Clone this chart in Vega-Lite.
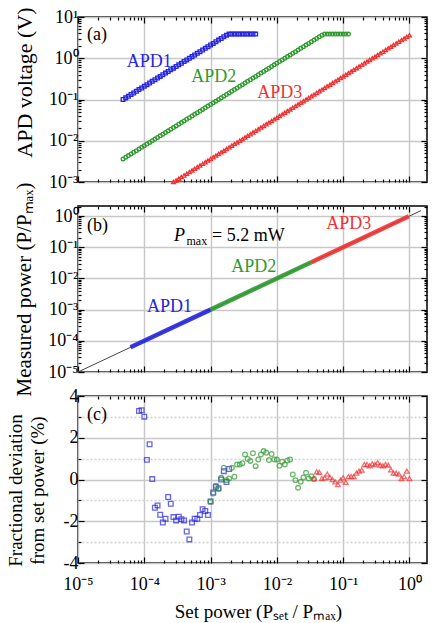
{
"$schema": "https://vega.github.io/schema/vega-lite/v6.json",
"background": "white",
"padding": {"left": 5, "top": 6, "right": 5, "bottom": 5},
"spacing": 24,
"bounds": "flush",
"config": {
 "font": "Liberation Serif",
 "view": {"stroke": "#000", "strokeWidth": 1.5},
 "axis": {"domain": false, "labelFont": "Liberation Serif", "labelFontSize": 18, "labelColor": "#000", "titleFont": "Liberation Serif", "titleFontSize": 19, "titleFontWeight": "normal", "titleColor": "#000", "tickColor": "#000", "tickWidth": 1.2, "gridColor": "#c8c8c8", "gridWidth": 1.5, "labelOverlap": false, "labelFlush": false},
 "text": {"font": "Liberation Serif"}
},
"datasets": {
 "a": [
  {"s":"APD1","x":4.786e-5,"y":0.1},{"s":"APD1","x":5.248e-5,"y":0.1096},{"s":"APD1","x":5.754e-5,"y":0.1202},{"s":"APD1","x":6.31e-5,"y":0.1318},{"s":"APD1","x":6.918e-5,"y":0.1445},{"s":"APD1","x":7.586e-5,"y":0.1585},{"s":"APD1","x":8.318e-5,"y":0.1738},{"s":"APD1","x":9.12e-5,"y":0.1905},{"s":"APD1","x":1e-4,"y":0.2089},{"s":"APD1","x":1.096e-4,"y":0.2291},{"s":"APD1","x":1.202e-4,"y":0.2512},{"s":"APD1","x":1.318e-4,"y":0.2754},{"s":"APD1","x":1.445e-4,"y":0.302},{"s":"APD1","x":1.585e-4,"y":0.3311},{"s":"APD1","x":1.738e-4,"y":0.3631},{"s":"APD1","x":1.905e-4,"y":0.3981},{"s":"APD1","x":2.089e-4,"y":0.4365},{"s":"APD1","x":2.291e-4,"y":0.4786},{"s":"APD1","x":2.512e-4,"y":0.5248},{"s":"APD1","x":2.754e-4,"y":0.5754},{"s":"APD1","x":3.02e-4,"y":0.631},{"s":"APD1","x":3.311e-4,"y":0.6918},{"s":"APD1","x":3.631e-4,"y":0.7586},{"s":"APD1","x":3.981e-4,"y":0.8318},{"s":"APD1","x":4.365e-4,"y":0.912},{"s":"APD1","x":4.786e-4,"y":1.0},{"s":"APD1","x":5.248e-4,"y":1.096},{"s":"APD1","x":5.754e-4,"y":1.202},{"s":"APD1","x":6.31e-4,"y":1.318},{"s":"APD1","x":6.918e-4,"y":1.445},{"s":"APD1","x":7.586e-4,"y":1.585},{"s":"APD1","x":8.318e-4,"y":1.738},{"s":"APD1","x":9.12e-4,"y":1.905},{"s":"APD1","x":1e-3,"y":2.089},{"s":"APD1","x":1.096e-3,"y":2.291},{"s":"APD1","x":1.202e-3,"y":2.512},{"s":"APD1","x":1.318e-3,"y":2.754},{"s":"APD1","x":1.445e-3,"y":3.02},{"s":"APD1","x":1.585e-3,"y":3.311},{"s":"APD1","x":1.738e-3,"y":3.631},
  {"s":"APD1","x":1.905e-3,"y":3.85},{"s":"APD1","x":2.089e-3,"y":3.85},{"s":"APD1","x":2.291e-3,"y":3.85},{"s":"APD1","x":2.512e-3,"y":3.85},{"s":"APD1","x":2.754e-3,"y":3.85},{"s":"APD1","x":3.02e-3,"y":3.85},{"s":"APD1","x":3.311e-3,"y":3.85},{"s":"APD1","x":3.631e-3,"y":3.85},{"s":"APD1","x":3.981e-3,"y":3.85},{"s":"APD1","x":4.365e-3,"y":3.85},{"s":"APD1","x":4.786e-3,"y":3.85},
  {"s":"APD2","x":4.786e-5,"y":3.631e-3},{"s":"APD2","x":5.248e-5,"y":3.981e-3},{"s":"APD2","x":5.754e-5,"y":4.365e-3},{"s":"APD2","x":6.31e-5,"y":4.786e-3},{"s":"APD2","x":6.918e-5,"y":5.248e-3},{"s":"APD2","x":7.586e-5,"y":5.754e-3},{"s":"APD2","x":8.318e-5,"y":6.31e-3},{"s":"APD2","x":9.12e-5,"y":6.918e-3},
  {"s":"APD2","x":1e-4,"y":7.586e-3},{"s":"APD2","x":1.096e-4,"y":8.318e-3},{"s":"APD2","x":1.202e-4,"y":9.12e-3},{"s":"APD2","x":1.318e-4,"y":0.01},{"s":"APD2","x":1.445e-4,"y":0.01096},{"s":"APD2","x":1.585e-4,"y":0.01202},{"s":"APD2","x":1.738e-4,"y":0.01318},{"s":"APD2","x":1.905e-4,"y":0.01445},{"s":"APD2","x":2.089e-4,"y":0.01585},{"s":"APD2","x":2.291e-4,"y":0.01738},{"s":"APD2","x":2.512e-4,"y":0.01905},{"s":"APD2","x":2.754e-4,"y":0.02089},{"s":"APD2","x":3.02e-4,"y":0.02291},{"s":"APD2","x":3.311e-4,"y":0.02512},{"s":"APD2","x":3.631e-4,"y":0.02754},{"s":"APD2","x":3.981e-4,"y":0.0302},{"s":"APD2","x":4.365e-4,"y":0.03311},{"s":"APD2","x":4.786e-4,"y":0.03631},{"s":"APD2","x":5.248e-4,"y":0.03981},{"s":"APD2","x":5.754e-4,"y":0.04365},{"s":"APD2","x":6.31e-4,"y":0.04786},{"s":"APD2","x":6.918e-4,"y":0.05248},{"s":"APD2","x":7.586e-4,"y":0.05754},{"s":"APD2","x":8.318e-4,"y":0.0631},{"s":"APD2","x":9.12e-4,"y":0.06918},
  {"s":"APD2","x":1e-3,"y":0.07586},{"s":"APD2","x":1.096e-3,"y":0.08318},{"s":"APD2","x":1.202e-3,"y":0.0912},{"s":"APD2","x":1.318e-3,"y":0.1},{"s":"APD2","x":1.445e-3,"y":0.1096},{"s":"APD2","x":1.585e-3,"y":0.1202},{"s":"APD2","x":1.738e-3,"y":0.1318},{"s":"APD2","x":1.905e-3,"y":0.1445},{"s":"APD2","x":2.089e-3,"y":0.1585},{"s":"APD2","x":2.291e-3,"y":0.1738},{"s":"APD2","x":2.512e-3,"y":0.1905},{"s":"APD2","x":2.754e-3,"y":0.2089},{"s":"APD2","x":3.02e-3,"y":0.2291},{"s":"APD2","x":3.311e-3,"y":0.2512},{"s":"APD2","x":3.631e-3,"y":0.2754},{"s":"APD2","x":3.981e-3,"y":0.302},{"s":"APD2","x":4.365e-3,"y":0.3311},{"s":"APD2","x":4.786e-3,"y":0.3631},{"s":"APD2","x":5.248e-3,"y":0.3981},{"s":"APD2","x":5.754e-3,"y":0.4365},{"s":"APD2","x":6.31e-3,"y":0.4786},{"s":"APD2","x":6.918e-3,"y":0.5248},{"s":"APD2","x":7.586e-3,"y":0.5754},{"s":"APD2","x":8.318e-3,"y":0.631},{"s":"APD2","x":9.12e-3,"y":0.6918},
  {"s":"APD2","x":0.01,"y":0.7586},{"s":"APD2","x":0.01096,"y":0.8318},{"s":"APD2","x":0.01202,"y":0.912},{"s":"APD2","x":0.01318,"y":1.0},{"s":"APD2","x":0.01445,"y":1.096},{"s":"APD2","x":0.01585,"y":1.202},{"s":"APD2","x":0.01738,"y":1.318},{"s":"APD2","x":0.01905,"y":1.445},{"s":"APD2","x":0.02089,"y":1.585},{"s":"APD2","x":0.02291,"y":1.738},{"s":"APD2","x":0.02512,"y":1.905},{"s":"APD2","x":0.02754,"y":2.089},{"s":"APD2","x":0.0302,"y":2.291},{"s":"APD2","x":0.03311,"y":2.512},{"s":"APD2","x":0.03631,"y":2.754},{"s":"APD2","x":0.03981,"y":3.02},{"s":"APD2","x":0.04365,"y":3.311},{"s":"APD2","x":0.04786,"y":3.631},
  {"s":"APD2","x":0.05248,"y":3.85},{"s":"APD2","x":0.05754,"y":3.85},{"s":"APD2","x":0.0631,"y":3.85},{"s":"APD2","x":0.06918,"y":3.85},{"s":"APD2","x":0.07586,"y":3.85},{"s":"APD2","x":0.08318,"y":3.85},{"s":"APD2","x":0.0912,"y":3.85},{"s":"APD2","x":0.1,"y":3.85},{"s":"APD2","x":0.1096,"y":3.85},{"s":"APD2","x":0.1202,"y":3.85},
  {"s":"APD3","x":2.754e-4,"y":1e-3},{"s":"APD3","x":3.02e-4,"y":1.096e-3},{"s":"APD3","x":3.311e-4,"y":1.202e-3},{"s":"APD3","x":3.631e-4,"y":1.318e-3},{"s":"APD3","x":3.981e-4,"y":1.445e-3},{"s":"APD3","x":4.365e-4,"y":1.585e-3},{"s":"APD3","x":4.786e-4,"y":1.738e-3},{"s":"APD3","x":5.248e-4,"y":1.905e-3},{"s":"APD3","x":5.754e-4,"y":2.089e-3},{"s":"APD3","x":6.31e-4,"y":2.291e-3},{"s":"APD3","x":6.918e-4,"y":2.512e-3},{"s":"APD3","x":7.586e-4,"y":2.754e-3},{"s":"APD3","x":8.318e-4,"y":3.02e-3},{"s":"APD3","x":9.12e-4,"y":3.311e-3},
  {"s":"APD3","x":1e-3,"y":3.631e-3},{"s":"APD3","x":1.096e-3,"y":3.981e-3},{"s":"APD3","x":1.202e-3,"y":4.365e-3},{"s":"APD3","x":1.318e-3,"y":4.786e-3},{"s":"APD3","x":1.445e-3,"y":5.248e-3},{"s":"APD3","x":1.585e-3,"y":5.754e-3},{"s":"APD3","x":1.738e-3,"y":6.31e-3},{"s":"APD3","x":1.905e-3,"y":6.918e-3},{"s":"APD3","x":2.089e-3,"y":7.586e-3},{"s":"APD3","x":2.291e-3,"y":8.318e-3},{"s":"APD3","x":2.512e-3,"y":9.12e-3},{"s":"APD3","x":2.754e-3,"y":0.01},{"s":"APD3","x":3.02e-3,"y":0.01096},{"s":"APD3","x":3.311e-3,"y":0.01202},{"s":"APD3","x":3.631e-3,"y":0.01318},{"s":"APD3","x":3.981e-3,"y":0.01445},{"s":"APD3","x":4.365e-3,"y":0.01585},{"s":"APD3","x":4.786e-3,"y":0.01738},{"s":"APD3","x":5.248e-3,"y":0.01905},{"s":"APD3","x":5.754e-3,"y":0.02089},{"s":"APD3","x":6.31e-3,"y":0.02291},{"s":"APD3","x":6.918e-3,"y":0.02512},{"s":"APD3","x":7.586e-3,"y":0.02754},{"s":"APD3","x":8.318e-3,"y":0.0302},{"s":"APD3","x":9.12e-3,"y":0.03311},
  {"s":"APD3","x":0.01,"y":0.03631},{"s":"APD3","x":0.01096,"y":0.03981},{"s":"APD3","x":0.01202,"y":0.04365},{"s":"APD3","x":0.01318,"y":0.04786},{"s":"APD3","x":0.01445,"y":0.05248},{"s":"APD3","x":0.01585,"y":0.05754},{"s":"APD3","x":0.01738,"y":0.0631},{"s":"APD3","x":0.01905,"y":0.06918},{"s":"APD3","x":0.02089,"y":0.07586},{"s":"APD3","x":0.02291,"y":0.08318},{"s":"APD3","x":0.02512,"y":0.0912},{"s":"APD3","x":0.02754,"y":0.1},{"s":"APD3","x":0.0302,"y":0.1096},{"s":"APD3","x":0.03311,"y":0.1202},{"s":"APD3","x":0.03631,"y":0.1318},{"s":"APD3","x":0.03981,"y":0.1445},{"s":"APD3","x":0.04365,"y":0.1585},{"s":"APD3","x":0.04786,"y":0.1738},{"s":"APD3","x":0.05248,"y":0.1905},{"s":"APD3","x":0.05754,"y":0.2089},{"s":"APD3","x":0.0631,"y":0.2291},{"s":"APD3","x":0.06918,"y":0.2512},{"s":"APD3","x":0.07586,"y":0.2754},{"s":"APD3","x":0.08318,"y":0.302},{"s":"APD3","x":0.0912,"y":0.3311},
  {"s":"APD3","x":0.1,"y":0.3631},{"s":"APD3","x":0.1096,"y":0.3981},{"s":"APD3","x":0.1202,"y":0.4365},{"s":"APD3","x":0.1318,"y":0.4786},{"s":"APD3","x":0.1445,"y":0.5248},{"s":"APD3","x":0.1585,"y":0.5754},{"s":"APD3","x":0.1738,"y":0.631},{"s":"APD3","x":0.1905,"y":0.6918},{"s":"APD3","x":0.2089,"y":0.7586},{"s":"APD3","x":0.2291,"y":0.8318},{"s":"APD3","x":0.2512,"y":0.912},{"s":"APD3","x":0.2754,"y":1.0},{"s":"APD3","x":0.302,"y":1.096},{"s":"APD3","x":0.3311,"y":1.202},{"s":"APD3","x":0.3631,"y":1.318},{"s":"APD3","x":0.3981,"y":1.445},{"s":"APD3","x":0.4365,"y":1.585},{"s":"APD3","x":0.4786,"y":1.738},{"s":"APD3","x":0.5248,"y":1.905},{"s":"APD3","x":0.5754,"y":2.089},{"s":"APD3","x":0.631,"y":2.291},{"s":"APD3","x":0.6918,"y":2.512},{"s":"APD3","x":0.7586,"y":2.754},{"s":"APD3","x":0.8318,"y":3.02},{"s":"APD3","x":0.912,"y":3.311},{"s":"APD3","x":1.0,"y":3.631}
 ],
 "b": [
  {"s":"APD1","x":6.2e-5,"y":6.2e-5},{"s":"APD1","x":1e-3,"y":1e-3},
  {"s":"APD2","x":1e-3,"y":1e-3},{"s":"APD2","x":0.033,"y":0.033},
  {"s":"APD3","x":0.033,"y":0.033},{"s":"APD3","x":0.98,"y":0.98}
 ],
 "c": [
  {"s":"APD1","x":8.318e-5,"y":3.28},{"s":"APD1","x":9.12e-5,"y":3.32},{"s":"APD1","x":1e-4,"y":3.01},{"s":"APD1","x":1.096e-4,"y":0.94},{"s":"APD1","x":1.202e-4,"y":1.69},{"s":"APD1","x":1.318e-4,"y":0.02},{"s":"APD1","x":1.445e-4,"y":-1.35},{"s":"APD1","x":1.585e-4,"y":-1.24},{"s":"APD1","x":1.738e-4,"y":-1.69},{"s":"APD1","x":1.905e-4,"y":-2.06},{"s":"APD1","x":2.089e-4,"y":-1.88},{"s":"APD1","x":2.291e-4,"y":-0.84},{"s":"APD1","x":2.512e-4,"y":-1.16},{"s":"APD1","x":2.754e-4,"y":-1.8},{"s":"APD1","x":3.02e-4,"y":-1.96},{"s":"APD1","x":3.311e-4,"y":-1.78},{"s":"APD1","x":3.631e-4,"y":-1.9},{"s":"APD1","x":3.981e-4,"y":-1.96},{"s":"APD1","x":4.365e-4,"y":-2.49},{"s":"APD1","x":4.786e-4,"y":-2.87},{"s":"APD1","x":5.248e-4,"y":-2.06},{"s":"APD1","x":5.754e-4,"y":-1.88},{"s":"APD1","x":6.31e-4,"y":-1.88},{"s":"APD1","x":6.918e-4,"y":-1.7},{"s":"APD1","x":7.586e-4,"y":-1.42},{"s":"APD1","x":8.318e-4,"y":-1.51},{"s":"APD1","x":9.12e-4,"y":-1.7},{"s":"APD1","x":1e-3,"y":-1.05},{"s":"APD1","x":1.096e-3,"y":-0.62},{"s":"APD1","x":1.202e-3,"y":-0.35},{"s":"APD1","x":1.318e-3,"y":-0.42},{"s":"APD1","x":1.445e-3,"y":0.0},{"s":"APD1","x":1.585e-3,"y":0.4},{"s":"APD1","x":1.738e-3,"y":-0.12},{"s":"APD1","x":1.905e-3,"y":0.5},
  {"s":"APD2","x":1e-3,"y":-1.07},{"s":"APD2","x":1.096e-3,"y":-0.67},{"s":"APD2","x":1.202e-3,"y":-0.3},{"s":"APD2","x":1.318e-3,"y":-0.46},{"s":"APD2","x":1.445e-3,"y":0.08},{"s":"APD2","x":1.585e-3,"y":0.56},{"s":"APD2","x":1.738e-3,"y":-0.03},{"s":"APD2","x":1.905e-3,"y":0.05},{"s":"APD2","x":2.089e-3,"y":0.56},{"s":"APD2","x":2.291e-3,"y":0.13},{"s":"APD2","x":2.512e-3,"y":0.72},{"s":"APD2","x":2.754e-3,"y":0.72},{"s":"APD2","x":3.02e-3,"y":0.78},{"s":"APD2","x":3.311e-3,"y":1.2},{"s":"APD2","x":3.631e-3,"y":0.98},{"s":"APD2","x":3.981e-3,"y":0.89},{"s":"APD2","x":4.365e-3,"y":1.26},{"s":"APD2","x":4.786e-3,"y":0.64},{"s":"APD2","x":5.248e-3,"y":0.96},{"s":"APD2","x":5.754e-3,"y":1.2},{"s":"APD2","x":6.31e-3,"y":1.36},{"s":"APD2","x":6.918e-3,"y":1.28},{"s":"APD2","x":7.586e-3,"y":0.93},{"s":"APD2","x":8.318e-3,"y":1.22},{"s":"APD2","x":9.12e-3,"y":0.96},{"s":"APD2","x":0.01,"y":0.96},{"s":"APD2","x":0.01096,"y":0.66},{"s":"APD2","x":0.01202,"y":0.85},{"s":"APD2","x":0.01318,"y":0.72},{"s":"APD2","x":0.01445,"y":0.91},{"s":"APD2","x":0.01585,"y":0.96},{"s":"APD2","x":0.01738,"y":0.24},{"s":"APD2","x":0.01905,"y":-0.03},{"s":"APD2","x":0.02089,"y":-0.4},{"s":"APD2","x":0.02291,"y":-0.11},{"s":"APD2","x":0.02512,"y":0.1},{"s":"APD2","x":0.02754,"y":0.32},{"s":"APD2","x":0.0302,"y":0.05},{"s":"APD2","x":0.03311,"y":0.16},{"s":"APD2","x":0.03631,"y":0.02},
  {"s":"APD3","x":0.03631,"y":0.05},{"s":"APD3","x":0.03981,"y":0.37},{"s":"APD3","x":0.04365,"y":0.34},{"s":"APD3","x":0.04786,"y":0.05},{"s":"APD3","x":0.05248,"y":0.08},{"s":"APD3","x":0.05754,"y":0.26},{"s":"APD3","x":0.0631,"y":0.1},{"s":"APD3","x":0.06918,"y":0.0},{"s":"APD3","x":0.07586,"y":-0.11},{"s":"APD3","x":0.08318,"y":-0.24},{"s":"APD3","x":0.0912,"y":-0.03},{"s":"APD3","x":0.1,"y":0.08},{"s":"APD3","x":0.1096,"y":-0.14},{"s":"APD3","x":0.1202,"y":0.14},{"s":"APD3","x":0.1318,"y":0.14},{"s":"APD3","x":0.1445,"y":0.14},{"s":"APD3","x":0.1585,"y":0.31},{"s":"APD3","x":0.1738,"y":0.4},{"s":"APD3","x":0.1905,"y":0.45},{"s":"APD3","x":0.2089,"y":0.72},{"s":"APD3","x":0.2291,"y":0.72},{"s":"APD3","x":0.2512,"y":0.66},{"s":"APD3","x":0.2754,"y":0.75},{"s":"APD3","x":0.302,"y":0.72},{"s":"APD3","x":0.3311,"y":0.81},{"s":"APD3","x":0.3631,"y":0.69},{"s":"APD3","x":0.3981,"y":0.66},{"s":"APD3","x":0.4365,"y":0.72},{"s":"APD3","x":0.4786,"y":0.69},{"s":"APD3","x":0.5248,"y":0.46},{"s":"APD3","x":0.5754,"y":0.31},{"s":"APD3","x":0.631,"y":0.31},{"s":"APD3","x":0.6918,"y":0.26},{"s":"APD3","x":0.7586,"y":0.05},{"s":"APD3","x":0.8318,"y":0.14},{"s":"APD3","x":0.912,"y":0.4},{"s":"APD3","x":1.0,"y":0.05}
 ]
},
"vconcat": [
 {
  "width": 349, "height": 165,
  "layer": [
   {"data": {"name": "a"}, "mark": {"type": "point", "filled": false, "size": 14, "strokeWidth": 1.3, "opacity": 1},
    "encoding": {
     "x": {"field": "x", "type": "quantitative", "scale": {"type": "log", "domain": [0.00001, 1.84], "nice": false},
       "axis": {"title": null, "labels": false, "values": [0.00001,0.00002,0.00003,0.00004,0.00005,0.00006,0.00007,0.00008,0.00009,0.0001,0.0002,0.0003,0.0004,0.0005,0.0006,0.0007,0.0008,0.0009,0.001,0.002,0.003,0.004,0.005,0.006,0.007,0.008,0.009,0.01,0.02,0.03,0.04,0.05,0.06,0.07,0.08,0.09,0.1,0.2,0.3,0.4,0.5,0.6,0.7,0.8,0.9,1],
        "tickSize": {"condition": {"test": "abs(log(datum.value)/LN10 - round(log(datum.value)/LN10)) < 0.01", "value": -6}, "value": -3},
        "gridOpacity": {"condition": {"test": "abs(log(datum.value)/LN10 - round(log(datum.value)/LN10)) < 0.01", "value": 1}, "value": 0}}},
     "y": {"field": "y", "type": "quantitative", "scale": {"type": "log", "domain": [0.001, 10], "nice": false},
       "axis": {"title": "APD voltage (V)", "titleFontSize": 22, "titleX": -54, "titleY": 65, "titleAngle": -90, "titleAlign": "center", "titleBaseline": "middle", "labelPadding": 6,
        "values": [0.001,0.002,0.003,0.004,0.005,0.006,0.007,0.008,0.009,0.01,0.02,0.03,0.04,0.05,0.06,0.07,0.08,0.09,0.1,0.2,0.3,0.4,0.5,0.6,0.7,0.8,0.9,1,2,3,4,5,6,7,8,9,10],
        "labelExpr": "abs(log(datum.value)/LN10 - round(log(datum.value)/LN10)) < 0.01 ? ['10⁻⁵','10⁻⁴','10⁻³','10⁻²','10⁻¹','10⁰','10¹'][round(log(datum.value)/LN10)+5] : ''",
        "tickSize": {"condition": {"test": "abs(log(datum.value)/LN10 - round(log(datum.value)/LN10)) < 0.01", "value": -6}, "value": -3},
        "gridOpacity": {"condition": {"test": "abs(log(datum.value)/LN10 - round(log(datum.value)/LN10)) < 0.01", "value": 1}, "value": 0}}},
     "color": {"field": "s", "type": "nominal", "scale": {"domain": ["APD1","APD2","APD3"], "range": ["#2626e0","#2f9a2f","#f03232"]}, "legend": null},
     "shape": {"field": "s", "type": "nominal", "scale": {"domain": ["APD1","APD2","APD3"], "range": ["square","circle","triangle-up"]}, "legend": null}
    }},
   {"data": {"name": "a"}, "mark": {"type": "point", "opacity": 0},
    "encoding": {
     "x": {"field": "x", "type": "quantitative", "scale": {"type": "log", "domain": [0.00001, 1.84], "nice": false},
       "axis": {"orient": "top", "title": null, "labels": false, "grid": false, "values": [0.00001,0.00002,0.00003,0.00004,0.00005,0.00006,0.00007,0.00008,0.00009,0.0001,0.0002,0.0003,0.0004,0.0005,0.0006,0.0007,0.0008,0.0009,0.001,0.002,0.003,0.004,0.005,0.006,0.007,0.008,0.009,0.01,0.02,0.03,0.04,0.05,0.06,0.07,0.08,0.09,0.1,0.2,0.3,0.4,0.5,0.6,0.7,0.8,0.9,1],
        "tickSize": {"condition": {"test": "abs(log(datum.value)/LN10 - round(log(datum.value)/LN10)) < 0.01", "value": -6}, "value": -3}}},
     "y": {"field": "y", "type": "quantitative", "scale": {"type": "log", "domain": [0.001, 10], "nice": false},
       "axis": {"orient": "right", "title": null, "labels": false, "grid": false, "values": [0.001,0.002,0.003,0.004,0.005,0.006,0.007,0.008,0.009,0.01,0.02,0.03,0.04,0.05,0.06,0.07,0.08,0.09,0.1,0.2,0.3,0.4,0.5,0.6,0.7,0.8,0.9,1,2,3,4,5,6,7,8,9,10],
        "tickSize": {"condition": {"test": "abs(log(datum.value)/LN10 - round(log(datum.value)/LN10)) < 0.01", "value": -6}, "value": -3}}}
    }},
   {"data": {"values": [{"t": "(a)", "x": 1.37e-5, "y": 3.6}]}, "mark": {"type": "text", "align": "left", "baseline": "middle", "fontSize": 18, "color": "#000"},
    "encoding": {"x": {"field": "x", "type": "quantitative", "scale": {"type": "log", "domain": [0.00001, 1.84], "nice": false}, "axis": null},
     "y": {"field": "y", "type": "quantitative", "scale": {"type": "log", "domain": [0.001, 10], "nice": false}, "axis": null},
     "text": {"field": "t"}}},
   {"data": {"values": [{"t": "APD1", "s": "APD1", "x": 5.43e-5, "y": 0.81}, {"t": "APD2", "s": "APD2", "x": 5.12e-4, "y": 0.351}, {"t": "APD3", "s": "APD3", "x": 5.06e-3, "y": 0.146}]},
    "mark": {"type": "text", "align": "left", "baseline": "middle", "fontSize": 18},
    "encoding": {"x": {"field": "x", "type": "quantitative", "scale": {"type": "log", "domain": [0.00001, 1.84], "nice": false}, "axis": null},
     "y": {"field": "y", "type": "quantitative", "scale": {"type": "log", "domain": [0.001, 10], "nice": false}, "axis": null},
     "text": {"field": "t"},
     "color": {"field": "s", "type": "nominal", "scale": {"domain": ["APD1","APD2","APD3"], "range": ["#2626e0","#2f9a2f","#f03232"]}, "legend": null}}}
  ],
  "resolve": {"axis": {"x": "independent", "y": "independent"}}
 },
 {
  "width": 349, "height": 166,
  "layer": [
   {"data": {"values": [{"x": 0.00001, "y": 0.00001}, {"x": 1.5, "y": 1.5}]}, "mark": {"type": "line", "color": "#444", "strokeWidth": 1},
    "encoding": {
     "x": {"field": "x", "type": "quantitative", "scale": {"type": "log", "domain": [0.00001, 1.84], "nice": false},
       "axis": {"title": null, "labels": false, "values": [0.00001,0.00002,0.00003,0.00004,0.00005,0.00006,0.00007,0.00008,0.00009,0.0001,0.0002,0.0003,0.0004,0.0005,0.0006,0.0007,0.0008,0.0009,0.001,0.002,0.003,0.004,0.005,0.006,0.007,0.008,0.009,0.01,0.02,0.03,0.04,0.05,0.06,0.07,0.08,0.09,0.1,0.2,0.3,0.4,0.5,0.6,0.7,0.8,0.9,1],
        "tickSize": {"condition": {"test": "abs(log(datum.value)/LN10 - round(log(datum.value)/LN10)) < 0.01", "value": -6}, "value": -3},
        "gridOpacity": {"condition": {"test": "abs(log(datum.value)/LN10 - round(log(datum.value)/LN10)) < 0.01", "value": 1}, "value": 0}}},
     "y": {"field": "y", "type": "quantitative", "scale": {"type": "log", "domain": [0.00001, 2.1], "nice": false},
       "axis": {"title": "Measured power (P/Pₘₐₓ)", "titleFontSize": 21, "titleX": -54, "titleY": 83, "titleAngle": -90, "titleAlign": "center", "titleBaseline": "middle", "labelPadding": 6,
        "values": [0.00001,0.00002,0.00003,0.00004,0.00005,0.00006,0.00007,0.00008,0.00009,0.0001,0.0002,0.0003,0.0004,0.0005,0.0006,0.0007,0.0008,0.0009,0.001,0.002,0.003,0.004,0.005,0.006,0.007,0.008,0.009,0.01,0.02,0.03,0.04,0.05,0.06,0.07,0.08,0.09,0.1,0.2,0.3,0.4,0.5,0.6,0.7,0.8,0.9,1,2],
        "labelExpr": "abs(log(datum.value)/LN10 - round(log(datum.value)/LN10)) < 0.01 ? ['10⁻⁵','10⁻⁴','10⁻³','10⁻²','10⁻¹','10⁰','10¹'][round(log(datum.value)/LN10)+5] : ''",
        "tickSize": {"condition": {"test": "abs(log(datum.value)/LN10 - round(log(datum.value)/LN10)) < 0.01", "value": -6}, "value": -3},
        "gridOpacity": {"condition": {"test": "abs(log(datum.value)/LN10 - round(log(datum.value)/LN10)) < 0.01", "value": 1}, "value": 0}}}
    }},
   {"data": {"values": [{"x": 0.00001, "y": 0.00001}, {"x": 1.5, "y": 1.5}]}, "mark": {"type": "line", "opacity": 0},
    "encoding": {
     "x": {"field": "x", "type": "quantitative", "scale": {"type": "log", "domain": [0.00001, 1.84], "nice": false},
       "axis": {"orient": "top", "title": null, "labels": false, "grid": false, "values": [0.00001,0.00002,0.00003,0.00004,0.00005,0.00006,0.00007,0.00008,0.00009,0.0001,0.0002,0.0003,0.0004,0.0005,0.0006,0.0007,0.0008,0.0009,0.001,0.002,0.003,0.004,0.005,0.006,0.007,0.008,0.009,0.01,0.02,0.03,0.04,0.05,0.06,0.07,0.08,0.09,0.1,0.2,0.3,0.4,0.5,0.6,0.7,0.8,0.9,1],
        "tickSize": {"condition": {"test": "abs(log(datum.value)/LN10 - round(log(datum.value)/LN10)) < 0.01", "value": -6}, "value": -3}}},
     "y": {"field": "y", "type": "quantitative", "scale": {"type": "log", "domain": [0.00001, 2.1], "nice": false},
       "axis": {"orient": "right", "title": null, "labels": false, "grid": false, "values": [0.00001,0.00002,0.00003,0.00004,0.00005,0.00006,0.00007,0.00008,0.00009,0.0001,0.0002,0.0003,0.0004,0.0005,0.0006,0.0007,0.0008,0.0009,0.001,0.002,0.003,0.004,0.005,0.006,0.007,0.008,0.009,0.01,0.02,0.03,0.04,0.05,0.06,0.07,0.08,0.09,0.1,0.2,0.3,0.4,0.5,0.6,0.7,0.8,0.9,1,2],
        "tickSize": {"condition": {"test": "abs(log(datum.value)/LN10 - round(log(datum.value)/LN10)) < 0.01", "value": -6}, "value": -3}}}
    }},
   {"data": {"name": "b"}, "mark": {"type": "line", "strokeWidth": 4.5, "strokeCap": "butt", "opacity": 0.9},
    "encoding": {
     "x": {"field": "x", "type": "quantitative", "scale": {"type": "log", "domain": [0.00001, 1.84], "nice": false}, "axis": null},
     "y": {"field": "y", "type": "quantitative", "scale": {"type": "log", "domain": [0.00001, 2.1], "nice": false}, "axis": null},
     "color": {"field": "s", "type": "nominal", "scale": {"domain": ["APD1","APD2","APD3"], "range": ["#1c1ce6","#1f8a1f","#f02020"]}, "legend": null}}},
   {"data": {"values": [{"t": "(b)", "x": 1.37e-5, "y": 0.48}]}, "mark": {"type": "text", "align": "left", "baseline": "middle", "fontSize": 18, "color": "#000"},
    "encoding": {"x": {"field": "x", "type": "quantitative", "scale": {"type": "log", "domain": [0.00001, 1.84], "nice": false}, "axis": null},
     "y": {"field": "y", "type": "quantitative", "scale": {"type": "log", "domain": [0.00001, 2.1], "nice": false}, "axis": null},
     "text": {"field": "t"}}},
   {"data": {"values": [{"t": "P", "x": 2.81e-4, "y": 0.236}]}, "mark": {"type": "text", "align": "left", "baseline": "middle", "fontSize": 18, "fontStyle": "italic", "color": "#000"},
    "encoding": {"x": {"field": "x", "type": "quantitative", "scale": {"type": "log", "domain": [0.00001, 1.84], "nice": false}, "axis": null},
     "y": {"field": "y", "type": "quantitative", "scale": {"type": "log", "domain": [0.00001, 2.1], "nice": false}, "axis": null},
     "text": {"field": "t"}}},
   {"data": {"values": [{"t": "max", "x": 4.33e-4, "y": 0.158}]}, "mark": {"type": "text", "align": "left", "baseline": "middle", "fontSize": 12, "color": "#000"},
    "encoding": {"x": {"field": "x", "type": "quantitative", "scale": {"type": "log", "domain": [0.00001, 1.84], "nice": false}, "axis": null},
     "y": {"field": "y", "type": "quantitative", "scale": {"type": "log", "domain": [0.00001, 2.1], "nice": false}, "axis": null},
     "text": {"field": "t"}}},
   {"data": {"values": [{"t": "= 5.2 mW", "x": 1.05e-3, "y": 0.236}]}, "mark": {"type": "text", "align": "left", "baseline": "middle", "fontSize": 18, "color": "#000"},
    "encoding": {"x": {"field": "x", "type": "quantitative", "scale": {"type": "log", "domain": [0.00001, 1.84], "nice": false}, "axis": null},
     "y": {"field": "y", "type": "quantitative", "scale": {"type": "log", "domain": [0.00001, 2.1], "nice": false}, "axis": null},
     "text": {"field": "t"}}},
   {"data": {"values": [{"t": "APD1", "s": "APD1", "x": 1.1e-4, "y": 0.0012}, {"t": "APD2", "s": "APD2", "x": 2.05e-3, "y": 0.0226}, {"t": "APD3", "s": "APD3", "x": 0.0556, "y": 0.54}]},
    "mark": {"type": "text", "align": "left", "baseline": "middle", "fontSize": 18},
    "encoding": {"x": {"field": "x", "type": "quantitative", "scale": {"type": "log", "domain": [0.00001, 1.84], "nice": false}, "axis": null},
     "y": {"field": "y", "type": "quantitative", "scale": {"type": "log", "domain": [0.00001, 2.1], "nice": false}, "axis": null},
     "text": {"field": "t"},
     "color": {"field": "s", "type": "nominal", "scale": {"domain": ["APD1","APD2","APD3"], "range": ["#2626e0","#2f9a2f","#f03232"]}, "legend": null}}}
  ],
  "resolve": {"axis": {"x": "independent", "y": "independent"}}
 },
 {
  "width": 349, "height": 167,
  "layer": [
   {"data": {"name": "c"}, "mark": {"type": "point", "filled": false, "size": 22, "strokeWidth": 1.3},
    "encoding": {
     "x": {"field": "x", "type": "quantitative", "scale": {"type": "log", "domain": [0.00001, 1.84], "nice": false},
       "axis": {"title": "Set power (Pₛₑₜ / Pₘₐₓ)", "titleX": 180, "titleY": 48, "titleAlign": "center", "titleBaseline": "middle", "labelPadding": 18,
        "values": [0.00001,0.00002,0.00003,0.00004,0.00005,0.00006,0.00007,0.00008,0.00009,0.0001,0.0002,0.0003,0.0004,0.0005,0.0006,0.0007,0.0008,0.0009,0.001,0.002,0.003,0.004,0.005,0.006,0.007,0.008,0.009,0.01,0.02,0.03,0.04,0.05,0.06,0.07,0.08,0.09,0.1,0.2,0.3,0.4,0.5,0.6,0.7,0.8,0.9,1],
        "labelExpr": "abs(log(datum.value)/LN10 - round(log(datum.value)/LN10)) < 0.01 ? ['10⁻⁵','10⁻⁴','10⁻³','10⁻²','10⁻¹','10⁰','10¹'][round(log(datum.value)/LN10)+5] : ''",
        "tickSize": {"condition": {"test": "abs(log(datum.value)/LN10 - round(log(datum.value)/LN10)) < 0.01", "value": -6}, "value": -3},
        "gridOpacity": {"condition": {"test": "abs(log(datum.value)/LN10 - round(log(datum.value)/LN10)) < 0.01", "value": 1}, "value": 0}}},
     "y": {"field": "y", "type": "quantitative", "scale": {"domain": [-4, 4], "nice": false, "zero": false},
       "axis": {"title": ["Fractional deviation", "from set power (%)"], "titleX": -63, "titleY": 94, "titleAngle": -90, "titleAlign": "center", "titleBaseline": "middle", "titleLineHeight": 22, "labelPadding": 6,
        "values": [-4,-3,-2,-1,0,1,2,3,4],
        "labelExpr": "datum.value % 2 == 0 ? '' + datum.value : ''",
        "tickSize": {"condition": {"test": "datum.value % 2 == 0", "value": -6}, "value": -3},
        "gridDash": {"condition": {"test": "datum.value % 2 != 0", "value": [2, 2]}, "value": []},
        "gridColor": {"condition": {"test": "datum.value % 2 != 0", "value": "#d0d0d0"}, "value": "#c8c8c8"}}},
     "color": {"field": "s", "type": "nominal", "scale": {"domain": ["APD1","APD2","APD3"], "range": ["#2626e0","#2f9a2f","#f03232"]}, "legend": null},
     "shape": {"field": "s", "type": "nominal", "scale": {"domain": ["APD1","APD2","APD3"], "range": ["square","circle","triangle-up"]}, "legend": null}
    }},
   {"data": {"name": "c"}, "mark": {"type": "point", "opacity": 0},
    "encoding": {
     "x": {"field": "x", "type": "quantitative", "scale": {"type": "log", "domain": [0.00001, 1.84], "nice": false},
       "axis": {"orient": "top", "title": null, "labels": false, "grid": false, "values": [0.00001,0.00002,0.00003,0.00004,0.00005,0.00006,0.00007,0.00008,0.00009,0.0001,0.0002,0.0003,0.0004,0.0005,0.0006,0.0007,0.0008,0.0009,0.001,0.002,0.003,0.004,0.005,0.006,0.007,0.008,0.009,0.01,0.02,0.03,0.04,0.05,0.06,0.07,0.08,0.09,0.1,0.2,0.3,0.4,0.5,0.6,0.7,0.8,0.9,1],
        "tickSize": {"condition": {"test": "abs(log(datum.value)/LN10 - round(log(datum.value)/LN10)) < 0.01", "value": -6}, "value": -3}}},
     "y": {"field": "y", "type": "quantitative", "scale": {"domain": [-4, 4], "nice": false, "zero": false},
       "axis": {"orient": "right", "title": null, "labels": false, "grid": false, "values": [-4,-3,-2,-1,0,1,2,3,4],
        "tickSize": {"condition": {"test": "datum.value % 2 == 0", "value": -6}, "value": -3}}}
    }},
   {"data": {"values": [{"t": "(c)", "x": 1.37e-5, "y": 3.08}]}, "mark": {"type": "text", "align": "left", "baseline": "middle", "fontSize": 18, "color": "#000"},
    "encoding": {"x": {"field": "x", "type": "quantitative", "scale": {"type": "log", "domain": [0.00001, 1.84], "nice": false}, "axis": null},
     "y": {"field": "y", "type": "quantitative", "scale": {"domain": [-4, 4], "nice": false, "zero": false}, "axis": null},
     "text": {"field": "t"}}}
  ],
  "resolve": {"axis": {"x": "independent", "y": "independent"}}
 }
]
}
